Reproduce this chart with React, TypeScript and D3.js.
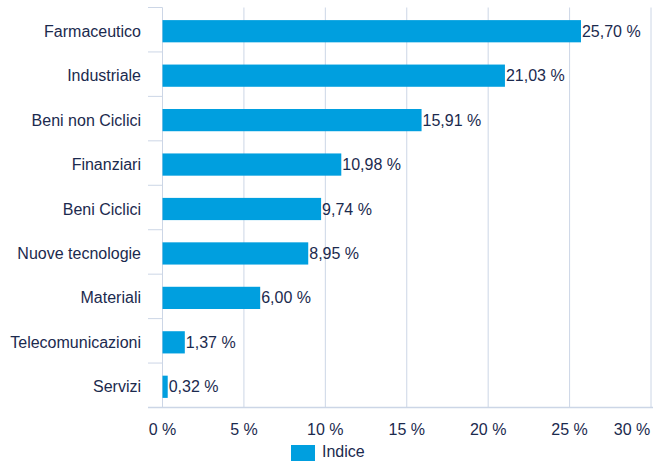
import React from 'react';
import * as d3 from 'd3';

const categories = ['Farmaceutico', 'Industriale', 'Beni non Ciclici', 'Finanziari', 'Beni Ciclici', 'Nuove tecnologie', 'Materiali', 'Telecomunicazioni', 'Servizi'];
const values = [25.7, 21.03, 15.91, 10.98, 9.74, 8.95, 6.0, 1.37, 0.32];
const xTicks = [0, 5, 10, 15, 20, 25, 30];
const seriesName = 'Indice';

const W = 653;
const H = 461;
const barColor = '#009fdf';
const textColor = '#1b2a4e';
const gridColor = '#ccd6e6';
const font = '"Liberation Sans", Arial, Helvetica, sans-serif';

export default function App() {
  const left = 162.5;
  const top = 7.5;
  const bottom = 407.5;

  const x = d3.scaleLinear().domain([0, 30]).range([left, 651]);
  const y = d3.scaleBand().domain(categories).range([top + 1.5, bottom + 1.5]).paddingInner(0.5).paddingOuter(0.25);
  const band = d3.scaleBand().domain(categories).range([top, bottom]);

  const fmt = (v: number) => v.toFixed(2).replace('.', ',') + ' %';

  return (
    <svg width={W} height={H} style={{ position: 'absolute', left: 0, top: 0, background: '#fff' }} fontFamily={font}>
      {xTicks.map(t => (
        <line key={'g' + t} x1={x(t)} x2={x(t)} y1={top} y2={bottom} stroke={gridColor} strokeWidth={1} />
      ))}
      {categories.map(c => (
        <line key={'t' + c} x1={148} x2={left} y1={band(c)!} y2={band(c)!} stroke={gridColor} strokeWidth={1} />
      ))}
      <line x1={148} x2={W} y1={bottom} y2={bottom} stroke={gridColor} strokeWidth={1.5} />
      {categories.map((c, i) => (
        <g key={c}>
          <rect x={x(0)} y={y(c)!} width={x(values[i]) - x(0)} height={y.bandwidth()} fill={barColor} />
          <text x={141} y={y(c)! + y.bandwidth() / 2} dy="0.35em" textAnchor="end" fontSize={16} fill={textColor}>{c}</text>
          <text x={x(values[i]) + 1} y={y(c)! + y.bandwidth() / 2} dy="0.35em" fontSize={16} fill={textColor}>{fmt(values[i])}</text>
        </g>
      ))}
      {xTicks.map(t => (
        <text key={'l' + t} x={t === 30 ? 632 : x(t)} y={429} dy="0.35em" textAnchor="middle" fontSize={16} fill={textColor}>{t + ' %'}</text>
      ))}
      <rect x={291} y={445} width={24} height={16} fill={barColor} />
      <text x={322} y={457} fontSize={16} fill={textColor}>{seriesName}</text>
    </svg>
  );
}
